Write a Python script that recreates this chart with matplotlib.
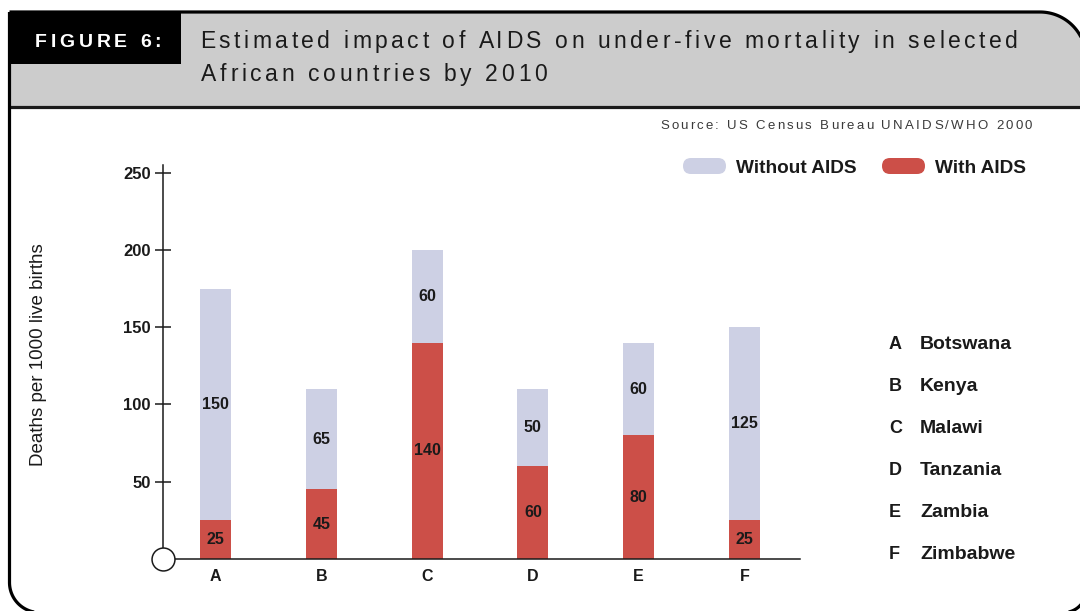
import matplotlib
matplotlib.use("Agg")
import matplotlib.pyplot as plt
from matplotlib.patches import PathPatch, Rectangle, FancyBboxPatch
from matplotlib.path import Path
from matplotlib.font_manager import FontProperties
import numpy as np

# ---- data -------------------------------------------------------------
categories = ["A", "B", "C", "D", "E", "F"]
countries = ["Botswana", "Kenya", "Malawi", "Tanzania", "Zambia", "Zimbabwe"]
with_aids = [25, 45, 140, 60, 80, 25]
without_aids = [150, 65, 60, 50, 60, 125]
series_names = ["Without AIDS", "With AIDS"]
y_ticks = [50, 100, 150, 200, 250]

fig_label = "FIGURE 6:"
title_lines = ["Estimated impact of AIDS on under-five mortality in selected",
               "African countries by 2010"]
source = "Source: US Census Bureau UNAIDS/WHO 2000"
y_label = "Deaths per 1000 live births"

# ---- style ------------------------------------------------------------
LAVENDER = "#cdd0e4"
RED = "#cc4f48"
INK = "#1a1a1a"
HEADER_GREY = "#cccccc"
FONT = "Liberation Sans"
plt.rcParams["font.family"] = [FONT, "DejaVu Sans"]

W, H = 1080, 611
fig = plt.figure(figsize=(W / 100, H / 100), dpi=100)

# background layer in pixel units (y downwards)
bg = fig.add_axes([0, 0, 1, 1], zorder=0)
bg.set_xlim(0, W)
bg.set_ylim(H, 0)
bg.axis("off")


def outline(x0, y0, x1, y1, r_tr, r_br, r_bl, n=40):
    pts = [(x0, y0)]
    t = np.linspace(-np.pi / 2, 0, n)
    pts += list(zip(x1 - r_tr + r_tr * np.cos(t), y0 + r_tr + r_tr * np.sin(t)))
    t = np.linspace(0, np.pi / 2, n)
    pts += list(zip(x1 - r_br + r_br * np.cos(t), y1 - r_br + r_br * np.sin(t)))
    t = np.linspace(np.pi / 2, np.pi, n)
    pts += list(zip(x0 + r_bl + r_bl * np.cos(t), y1 - r_bl + r_bl * np.sin(t)))
    pts.append((x0, y0))
    return np.array(pts)


FX0, FY0, FX1, FY1 = 9.5, 12, 1086, 612.5
R_TR = 46
HEADER_BOTTOM = 107

# grey header band (follows the rounded top-right corner)
t = np.linspace(-np.pi / 2, 0, 40)
hdr = [(FX0, FY0)] + list(zip(FX1 - R_TR + R_TR * np.cos(t),
                              FY0 + R_TR + R_TR * np.sin(t)))
hdr += [(FX1, HEADER_BOTTOM), (FX0, HEADER_BOTTOM), (FX0, FY0)]
bg.add_patch(PathPatch(Path(np.array(hdr)), facecolor=HEADER_GREY,
                       edgecolor="none", zorder=1))
bg.add_patch(Rectangle((FX0, FY0), 171, 52, facecolor="black",
                       edgecolor="none", zorder=2))
bg.plot([FX0, FX1], [HEADER_BOTTOM, HEADER_BOTTOM], color=INK, lw=2.3,
        solid_capstyle="butt", zorder=3)
bg.add_patch(PathPatch(Path(outline(FX0, FY0, FX1, FY1, R_TR, 22, 30)),
                       facecolor="none", edgecolor="black", lw=2.3, zorder=4))

renderer = fig.canvas.get_renderer()


def text_width(s, prop):
    w, _, _ = renderer.get_text_width_height_descent(s, prop, ismath=False)
    return w


def tracked_text(x0, x1, y, s, prop, color):
    """Draw s letter-spaced so it runs from x0 to x1 (pixels), baseline at y."""
    natural = text_width(s, prop)
    track = (x1 - x0 - natural) / (len(s) - 1)
    ref = text_width("l", prop)
    for i, ch in enumerate(s):
        if ch == " ":
            continue
        adv = text_width(s[:i] + "l", prop) - ref if i else 0.0
        bg.text(x0 + adv + i * track, y, ch, fontproperties=prop, color=color,
                ha="left", va="baseline", zorder=5)


fig_prop = FontProperties(family=FONT, weight="bold", size=14)
title_prop = FontProperties(family=FONT, size=16.5)
source_prop = FontProperties(family=FONT, size=9.5)

tracked_text(35, 161, 47, fig_label, fig_prop, "white")
tracked_text(200, 1018, 48, title_lines[0], title_prop, INK)
tracked_text(201, 547, 81, title_lines[1], title_prop, INK)
tracked_text(660, 1032, 129, source, source_prop, "#3a3a3a")

# ---- bar chart --------------------------------------------------------
ax = fig.add_axes([163 / W, (H - 559) / H, 637 / W, 394 / H], zorder=2)
ax.patch.set_alpha(0)
x = np.arange(len(categories))
bar_w = 0.293
b_with = ax.bar(x, with_aids, width=bar_w, color=RED, zorder=2)
b_without = ax.bar(x, without_aids, bottom=with_aids, width=bar_w,
                   color=LAVENDER, zorder=2)
for cont, vals in ((b_with, with_aids), (b_without, without_aids)):
    ax.bar_label(cont, labels=[str(v) for v in vals], label_type="center",
                 fontsize=11.5, fontweight="bold", color=INK)

ax.set_xlim(-0.496, 5.525)
ax.set_ylim(0, 255)
for side in ("top", "right"):
    ax.spines[side].set_visible(False)
for side in ("left", "bottom"):
    ax.spines[side].set_color(INK)
    ax.spines[side].set_linewidth(1.1)
ax.set_yticks(y_ticks, labels=[str(v) for v in y_ticks],
              fontsize=12, fontweight="bold")
ax.set_xticks(x, labels=categories, fontsize=11.5, fontweight="bold")
ax.tick_params(axis="y", direction="inout", length=12, width=1.1,
               colors=INK, pad=3)
ax.tick_params(axis="x", length=0, pad=7.5, colors=INK)

# open circle at the origin
ax.plot([ax.get_xlim()[0]], [0], marker="o", ms=16.5, mfc="white",
        mec=INK, mew=1.1, clip_on=False, zorder=10)

bg.text(39, 355, y_label, rotation=90, ha="center", va="center",
        fontsize=13.5, color=INK)

# ---- legend -----------------------------------------------------------
legend_items = [(683, 736, LAVENDER), (882, 935, RED)]
for (px, tx, col), name in zip(legend_items, series_names):
    bg.add_patch(FancyBboxPatch((px, 158), 43, 16,
                                boxstyle="round,pad=0,rounding_size=8",
                                facecolor=col, edgecolor="none", zorder=5))
    bg.text(tx, 173, name, fontsize=13.7, fontweight="bold", color=INK,
            ha="left", va="baseline", zorder=5)

# ---- country key ------------------------------------------------------
for i, (code, name) in enumerate(zip(categories, countries)):
    yb = 349 + 42 * i
    bg.text(889, yb, code, fontsize=13, fontweight="bold", color=INK,
            ha="left", va="baseline")
    bg.text(920, yb, name, fontsize=14, fontweight="bold", color=INK,
            ha="left", va="baseline")

fig.savefig("out.png", dpi=100)
